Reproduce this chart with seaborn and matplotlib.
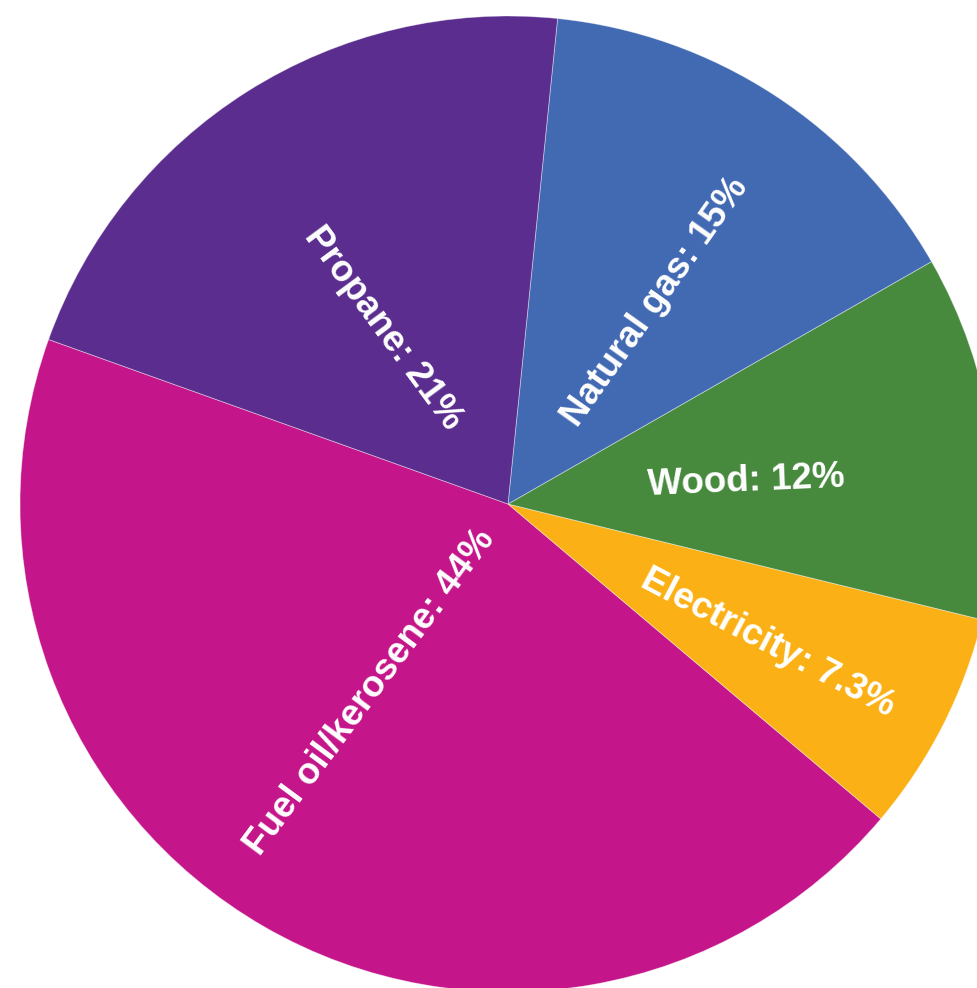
import numpy as np
import matplotlib
matplotlib.use("Agg")
import matplotlib.pyplot as plt
import seaborn as sns
from matplotlib import font_manager

sns.set_theme(style="white")

categories = ["Fuel oil/kerosene", "Electricity", "Wood", "Natural gas", "Propane"]
values = [44, 7.3, 12, 15, 21]
value_labels = ["44%", "7.3%", "12%", "15%", "21%"]
colors = ["#C4168A", "#FBB116", "#478A3E", "#426AB3", "#5B2D8E"]

# label placement (polar: angle in degrees, radius fraction) and text rotation
label_angle = [233.7, -28.1, 5.5, 54.0, 125.4]
label_radius = [0.478, 0.604, 0.490, 0.512, 0.442]
label_rot = [53.5, -27.7, 2.4, 54.7, -53.6]

avail = {f.name for f in font_manager.fontManager.ttflist}
fam = [f for f in ["Liberation Sans Narrow", "Liberation Sans", "DejaVu Sans"] if f in avail]

W, H, DPI = 977, 988, 100
fig = plt.figure(figsize=(W / DPI, H / DPI), dpi=DPI)
ax = fig.add_axes([0, 0, 1, 1])

cx, cy, R = 508, 504, 488  # pixel centre and radius

ax.pie(values, colors=colors, startangle=160.3, counterclock=True,
       radius=1.0, wedgeprops=dict(edgecolor=(1, 1, 1, 0.45), linewidth=0.6))

for cat, lab, a, r, rot in zip(categories, value_labels, label_angle, label_radius, label_rot):
    t = np.deg2rad(a)
    ax.text(r * np.cos(t), r * np.sin(t), f"{cat}: {lab}", rotation=rot,
            rotation_mode="anchor", ha="center", va="center",
            color="white", fontsize=26.5, fontweight="bold",
            family=fam, fontstretch="condensed")

ax.set_aspect("auto")
ax.set_xlim(-cx / R, (W - cx) / R)
ax.set_ylim(-(H - cy) / R, cy / R)
ax.axis("off")

fig.savefig("out.png", dpi=DPI, facecolor="white")
